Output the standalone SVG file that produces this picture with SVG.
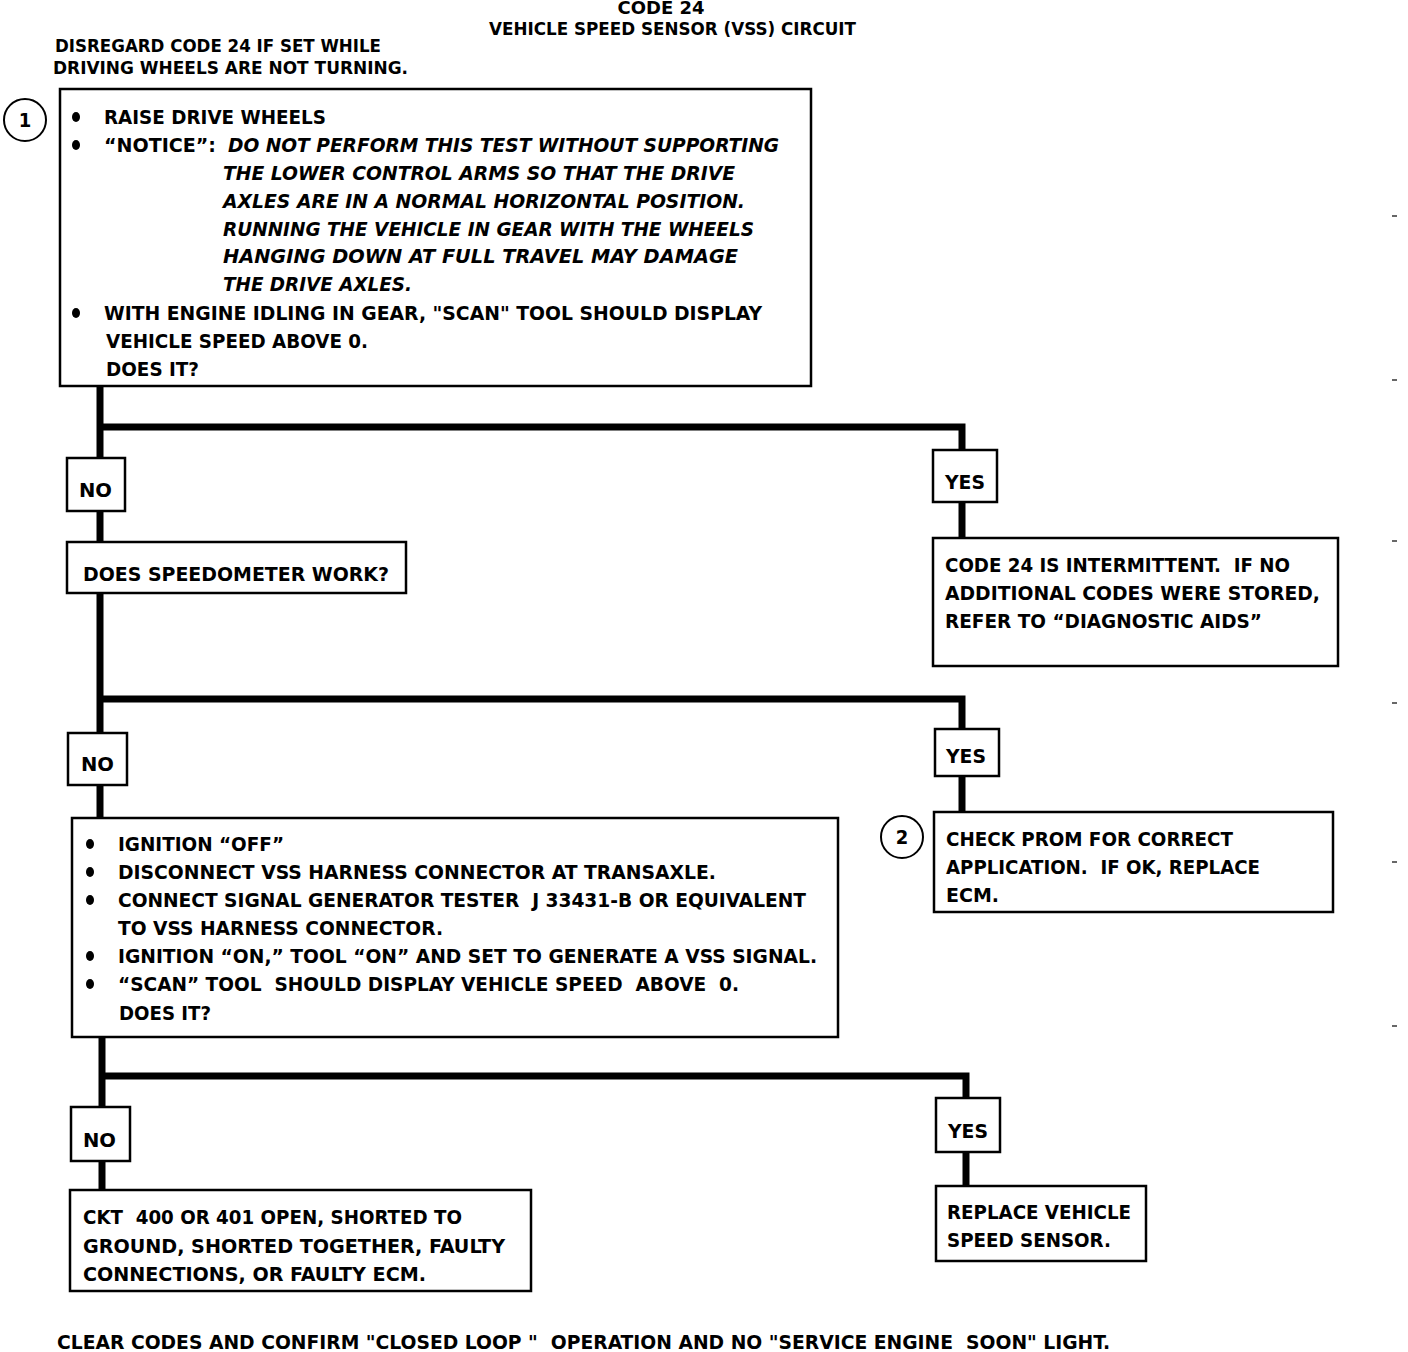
<svg xmlns="http://www.w3.org/2000/svg" width="1408" height="1352" viewBox="0 0 1408 1352">
<style>
text{font-family:"DejaVu Sans Condensed","Liberation Sans",sans-serif;font-weight:bold;font-size:20px;fill:#000;white-space:pre}
.t{font-size:17px}
.i{font-style:italic}
.box{fill:#fff;stroke:#000;stroke-width:2.5}
.lbl{fill:#fff;stroke:#000;stroke-width:2.5}
.wire{fill:none;stroke:#000;stroke-width:7;stroke-linejoin:miter}
.circ{fill:#fff;stroke:#000;stroke-width:2}
.tick{stroke:#000;stroke-width:1.2}
</style>
<rect width="1408" height="1352" fill="#fff"/>

<g id="title">
<text class="t" x="661" y="14" text-anchor="middle" textLength="87" lengthAdjust="spacingAndGlyphs">CODE 24</text>
<text class="t" x="489" y="35" textLength="367" lengthAdjust="spacingAndGlyphs">VEHICLE SPEED SENSOR (VSS) CIRCUIT</text>
<text class="t" x="55" y="52" textLength="326" lengthAdjust="spacingAndGlyphs">DISREGARD CODE 24 IF SET WHILE</text>
<text class="t" x="53" y="74" textLength="355" lengthAdjust="spacingAndGlyphs">DRIVING WHEELS ARE NOT TURNING.</text>
</g>

<g id="connectors">
<polyline class="wire" points="100,386 100,458"/>
<polyline class="wire" points="100,427 962,427 962,450"/>
<polyline class="wire" points="100,511 100,542"/>
<polyline class="wire" points="962,502 962,538"/>
<polyline class="wire" points="100,593 100,733"/>
<polyline class="wire" points="100,699 962,699 962,729"/>
<polyline class="wire" points="962,776 962,812"/>
<polyline class="wire" points="100,785 100,818"/>
<polyline class="wire" points="102,1037 102,1107"/>
<polyline class="wire" points="102,1076 966,1076 966,1098"/>
<polyline class="wire" points="102,1161 102,1190"/>
<polyline class="wire" points="966,1152 966,1186"/>
</g>

<g id="step1">
<circle class="circ" cx="25" cy="120" r="21"/>
<text x="25" y="127" text-anchor="middle" font-size="18">1</text>
</g>

<g id="box1">
<rect class="box" x="60" y="89" width="751" height="297"/>
<ellipse cx="76" cy="117" rx="4" ry="5"/>
<ellipse cx="76" cy="145" rx="4" ry="5"/>
<ellipse cx="76" cy="313" rx="4" ry="5"/>
<text x="104" y="124" textLength="222" lengthAdjust="spacingAndGlyphs">RAISE DRIVE WHEELS</text>
<text x="104" y="152" textLength="112" lengthAdjust="spacingAndGlyphs">“NOTICE”:</text>
<text class="i" x="228" y="152" textLength="551" lengthAdjust="spacingAndGlyphs">DO NOT PERFORM THIS TEST WITHOUT SUPPORTING</text>
<text class="i" x="223" y="180" textLength="512" lengthAdjust="spacingAndGlyphs">THE LOWER CONTROL ARMS SO THAT THE DRIVE</text>
<text class="i" x="223" y="208" textLength="522" lengthAdjust="spacingAndGlyphs">AXLES ARE IN A NORMAL HORIZONTAL POSITION.</text>
<text class="i" x="223" y="236" textLength="531" lengthAdjust="spacingAndGlyphs">RUNNING THE VEHICLE IN GEAR WITH THE WHEELS</text>
<text class="i" x="223" y="263" textLength="515" lengthAdjust="spacingAndGlyphs">HANGING DOWN AT FULL TRAVEL MAY DAMAGE</text>
<text class="i" x="223" y="291" textLength="189" lengthAdjust="spacingAndGlyphs">THE DRIVE AXLES.</text>
<text x="104" y="320" textLength="658" lengthAdjust="spacingAndGlyphs">WITH ENGINE IDLING IN GEAR, "SCAN" TOOL SHOULD DISPLAY</text>
<text x="106" y="348" textLength="262" lengthAdjust="spacingAndGlyphs">VEHICLE SPEED ABOVE 0.</text>
<text x="106" y="376" textLength="93" lengthAdjust="spacingAndGlyphs">DOES IT?</text>
</g>

<g id="no1">
<rect class="lbl" x="67" y="458" width="58" height="53"/>
<text x="79" y="497" textLength="33" lengthAdjust="spacingAndGlyphs">NO</text>
</g>
<g id="yes1">
<rect class="lbl" x="933" y="450" width="64" height="52"/>
<text x="945" y="489" textLength="40" lengthAdjust="spacingAndGlyphs">YES</text>
</g>

<g id="speedo">
<rect class="box" x="67" y="542" width="339" height="51"/>
<text x="83" y="581" textLength="306" lengthAdjust="spacingAndGlyphs">DOES SPEEDOMETER WORK?</text>
</g>

<g id="intermittent">
<rect class="box" x="933" y="538" width="405" height="128"/>
<text x="945" y="572" textLength="345" lengthAdjust="spacingAndGlyphs">CODE 24 IS INTERMITTENT.  IF NO</text>
<text x="945" y="600" textLength="375" lengthAdjust="spacingAndGlyphs">ADDITIONAL CODES WERE STORED,</text>
<text x="945" y="628" textLength="317" lengthAdjust="spacingAndGlyphs">REFER TO “DIAGNOSTIC AIDS”</text>
</g>

<g id="no2">
<rect class="lbl" x="68" y="733" width="59" height="52"/>
<text x="81" y="771" textLength="33" lengthAdjust="spacingAndGlyphs">NO</text>
</g>
<g id="yes2">
<rect class="lbl" x="935" y="729" width="64" height="47"/>
<text x="946" y="763" textLength="40" lengthAdjust="spacingAndGlyphs">YES</text>
</g>

<g id="step2">
<circle class="circ" cx="902" cy="837" r="21"/>
<text x="902" y="844" text-anchor="middle" font-size="18">2</text>
</g>

<g id="prom">
<rect class="box" x="934" y="812" width="399" height="100"/>
<text x="946" y="846" textLength="287" lengthAdjust="spacingAndGlyphs">CHECK PROM FOR CORRECT</text>
<text x="946" y="874" textLength="314" lengthAdjust="spacingAndGlyphs">APPLICATION.  IF OK, REPLACE</text>
<text x="946" y="902" textLength="53" lengthAdjust="spacingAndGlyphs">ECM.</text>
</g>

<g id="box3">
<rect class="box" x="72" y="818" width="766" height="219"/>
<ellipse cx="90" cy="844" rx="4" ry="5"/>
<ellipse cx="90" cy="872" rx="4" ry="5"/>
<ellipse cx="90" cy="900" rx="4" ry="5"/>
<ellipse cx="90" cy="956" rx="4" ry="5"/>
<ellipse cx="90" cy="984" rx="4" ry="5"/>
<text x="118" y="851" textLength="166" lengthAdjust="spacingAndGlyphs">IGNITION “OFF”</text>
<text x="118" y="879" textLength="598" lengthAdjust="spacingAndGlyphs">DISCONNECT VSS HARNESS CONNECTOR AT TRANSAXLE.</text>
<text x="118" y="907" textLength="688" lengthAdjust="spacingAndGlyphs">CONNECT SIGNAL GENERATOR TESTER  J 33431-B OR EQUIVALENT</text>
<text x="118" y="935" textLength="325" lengthAdjust="spacingAndGlyphs">TO VSS HARNESS CONNECTOR.</text>
<text x="118" y="963" textLength="699" lengthAdjust="spacingAndGlyphs">IGNITION “ON,” TOOL “ON” AND SET TO GENERATE A VSS SIGNAL.</text>
<text x="118" y="991" textLength="621" lengthAdjust="spacingAndGlyphs">“SCAN” TOOL  SHOULD DISPLAY VEHICLE SPEED  ABOVE  0.</text>
<text x="119" y="1020" textLength="92" lengthAdjust="spacingAndGlyphs">DOES IT?</text>
</g>

<g id="no3">
<rect class="lbl" x="71" y="1107" width="59" height="54"/>
<text x="83" y="1147" textLength="33" lengthAdjust="spacingAndGlyphs">NO</text>
</g>
<g id="yes3">
<rect class="lbl" x="936" y="1098" width="64" height="54"/>
<text x="948" y="1138" textLength="40" lengthAdjust="spacingAndGlyphs">YES</text>
</g>

<g id="ckt">
<rect class="box" x="70" y="1190" width="461" height="101"/>
<text x="83" y="1224" textLength="379" lengthAdjust="spacingAndGlyphs">CKT  400 OR 401 OPEN, SHORTED TO</text>
<text x="83" y="1253" textLength="422" lengthAdjust="spacingAndGlyphs">GROUND, SHORTED TOGETHER, FAULTY</text>
<text x="83" y="1281" textLength="343" lengthAdjust="spacingAndGlyphs">CONNECTIONS, OR FAULTY ECM.</text>
</g>

<g id="replace">
<rect class="box" x="936" y="1186" width="210" height="75"/>
<text x="947" y="1219" textLength="184" lengthAdjust="spacingAndGlyphs">REPLACE VEHICLE</text>
<text x="947" y="1247" textLength="164" lengthAdjust="spacingAndGlyphs">SPEED SENSOR.</text>
</g>

<g id="footer">
<text x="57" y="1349" textLength="1053" lengthAdjust="spacingAndGlyphs">CLEAR CODES AND CONFIRM "CLOSED LOOP "  OPERATION AND NO "SERVICE ENGINE  SOON" LIGHT.</text>
</g>

<g id="marks">
<line class="tick" x1="1392" y1="216" x2="1397" y2="216"/>
<line class="tick" x1="1392" y1="380" x2="1397" y2="380"/>
<line class="tick" x1="1392" y1="541" x2="1397" y2="541"/>
<line class="tick" x1="1392" y1="703" x2="1397" y2="703"/>
<line class="tick" x1="1392" y1="862" x2="1397" y2="862"/>
<line class="tick" x1="1392" y1="1026" x2="1397" y2="1026"/>
</g>
</svg>
